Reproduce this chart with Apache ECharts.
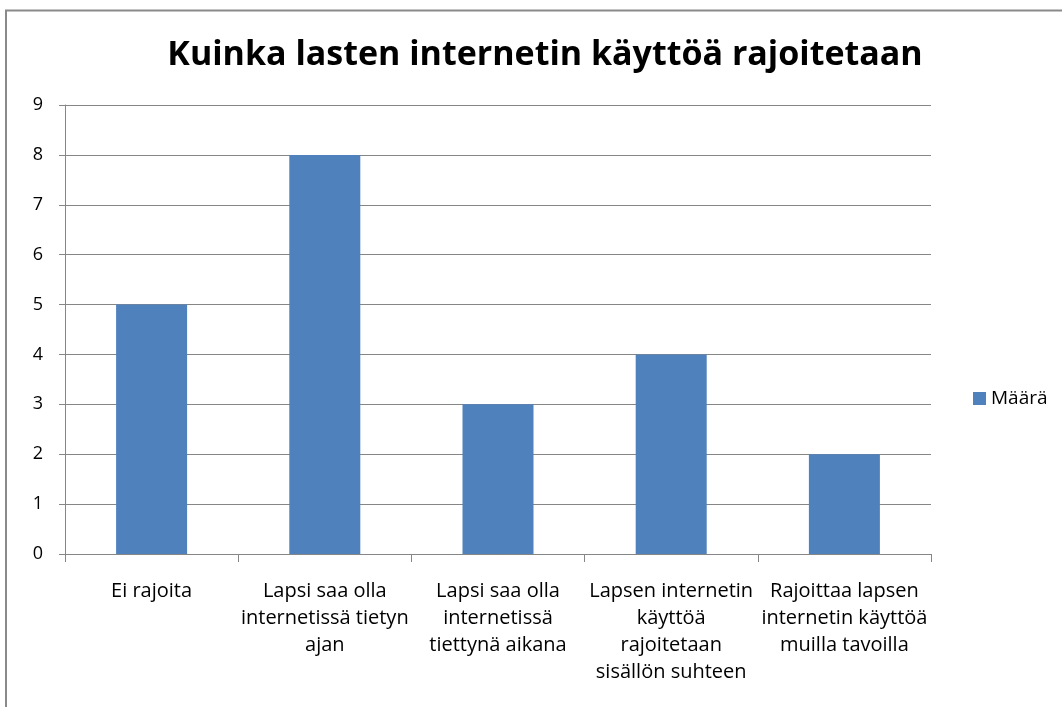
<!DOCTYPE html>
<html>
<head>
    <meta charset="utf-8">
    <title>Kuinka lasten internetin käyttöä rajoitetaan</title>
    <script src="https://cdn.jsdelivr.net/npm/echarts@6/dist/echarts.min.js"></script>
    <style>
        html, body { margin: 0; padding: 0; background: #fff; }
        #chart1 { width: 1062px; height: 707px; }
    </style>
</head>
<body>
<div id="chart1"></div>
<script>
    // data
    var categories = [
        'Ei rajoita',
        'Lapsi saa olla\ninternetissä tietyn\najan',
        'Lapsi saa olla\ninternetissä\ntiettynä aikana',
        'Lapsen internetin\nkäyttöä\nrajoitetaan\nsisällön suhteen',
        'Rajoittaa lapsen\ninternetin käyttöä\nmuilla tavoilla'
    ];
    var maara = [5, 8, 3, 4, 2];
    var yTicks = [0, 9, 1]; // min, max, interval

    var font = '"Open Sans", "DejaVu Sans", sans-serif';
    var myChart1 = echarts.init(document.getElementById('chart1'));
    myChart1.setOption({
        animation: false,
        backgroundColor: '#fff',
        graphic: [{
            // chart frame (right and bottom edges are outside the picture)
            type: 'rect',
            shape: { x: 6, y: 10.5, width: 1200, height: 900 },
            style: { fill: null, stroke: '#8a8a8a', lineWidth: 2 },
            silent: true
        }],
        title: {
            text: 'Kuinka lasten internetin käyttöä rajoitetaan',
            left: 540,
            textAlign: 'center',
            top: 33,
            textStyle: { fontFamily: font, fontSize: 34, fontWeight: 'bold', color: '#000' }
        },
        legend: {
            orient: 'vertical',
            left: 968,
            top: 384,
            itemWidth: 13,
            itemHeight: 13,
            itemGap: 6,
            icon: 'rect',
            textStyle: { fontFamily: font, fontSize: 19, color: '#000' },
            data: ['Määrä']
        },
        grid: { left: 65, right: 131, top: 105, bottom: 153 },
        xAxis: {
            type: 'category',
            data: categories,
            axisLine: { lineStyle: { color: '#868686', width: 1 } },
            axisTick: { show: true, length: 8, alignWithLabel: false, lineStyle: { color: '#868686' } },
            axisLabel: {
                interval: 0,
                margin: 24,
                fontFamily: font,
                fontSize: 20,
                lineHeight: 27,
                color: '#000'
            }
        },
        yAxis: {
            type: 'value',
            min: yTicks[0],
            max: yTicks[1],
            interval: yTicks[2],
            axisLine: { show: true, lineStyle: { color: '#868686', width: 1 } },
            axisTick: { show: true, length: 6, lineStyle: { color: '#868686' } },
            splitLine: { lineStyle: { color: '#868686', width: 1 } },
            axisLabel: { margin: 22, fontFamily: font, fontSize: 18, color: '#000' }
        },
        series: [{
            name: 'Määrä',
            type: 'bar',
            data: maara,
            barCategoryGap: '59%',
            itemStyle: { color: '#4f81bd' }
        }]
    });
</script>
</body>
</html>
